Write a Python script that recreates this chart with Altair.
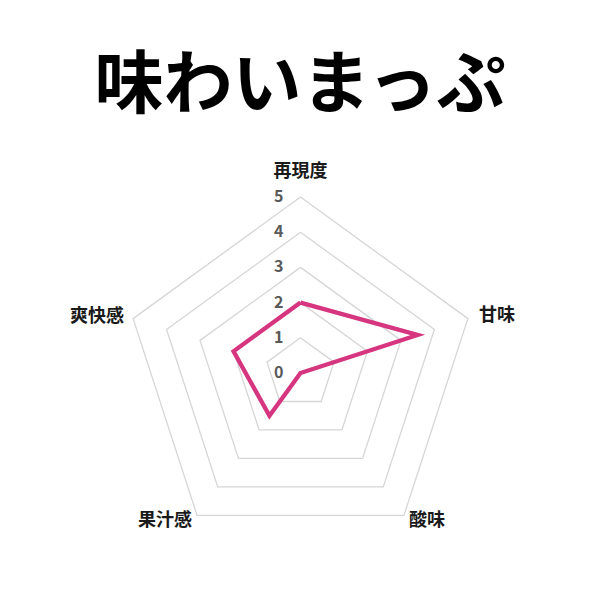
import altair as alt
import pandas as pd

# ---- data ----
categories = ["再現度", "甘味", "酸味", "果汁感", "爽快感"]
values = [2, 3.5, 0, 1.5, 2]
levels = [1, 2, 3, 4, 5]
tick_labels = ["0", "1", "2", "3", "4", "5"]

N = len(categories)
FONT = "Noto Sans CJK JP"

series_df = pd.DataFrame({
    "ord": list(range(N + 1)),
    "idx": [i % N for i in range(N + 1)],
    "value": [values[i % N] for i in range(N + 1)],
})
ring_df = pd.DataFrame([
    {"level": l, "ord": i, "idx": i % N, "value": l}
    for l in levels for i in range(N + 1)
])
label_df = pd.DataFrame({
    "idx": list(range(N)),
    "category": categories,
    "value": [max(levels)] * N,
})
tick_df = pd.DataFrame({
    "tick": tick_labels,
    "value": [float(t) for t in tick_labels],
    "idx": [0] * len(tick_labels),
})

# ---- layout ----
W, H = 584, 584
PAD_TOP = 140
VIEW_H = H - PAD_TOP
CX, CY = 292.5, 225.0          # centre inside the view (pixels)
PX_PER_UNIT = 35.2

x_dom = [-CX / PX_PER_UNIT, (W - CX) / PX_PER_UNIT]
y_dom = [-(VIEW_H - CY) / PX_PER_UNIT, CY / PX_PER_UNIT]

X = alt.X("px:Q", scale=alt.Scale(domain=x_dom, nice=False, zero=False), axis=None)
Y = alt.Y("py:Q", scale=alt.Scale(domain=y_dom, nice=False, zero=False), axis=None)


def polar(chart):
    return (chart
            .transform_calculate(ang=f"datum.idx * 2 * PI / {N}")
            .transform_calculate(px="datum.value * sin(datum.ang)",
                                 py="datum.value * cos(datum.ang)"))


rings = polar(alt.Chart(ring_df).mark_line(color="#d6d6d6", strokeWidth=1.3)).encode(
    x=X, y=Y, detail="level:N", order="ord:Q")

series = polar(alt.Chart(series_df).mark_line(
    color="#D6357F", strokeWidth=4.3, strokeJoin="miter")).encode(
    x=X, y=Y, order="ord:Q")

ticks = polar(alt.Chart(tick_df).mark_text(
    align="right", baseline="middle", dx=-17, fontSize=16, fontWeight="bold",
    font=FONT, color="#595959")).encode(x=X, y=Y, text="tick:N")

label_style = [
    ("再現度", "center", 0, -25),
    ("甘味", "left", 11, -3),
    ("酸味", "left", 5, 6),
    ("果汁感", "right", -5, 6),
    ("爽快感", "right", -9, -2),
]
label_layers = []
for cat, al, dx, dy in label_style:
    label_layers.append(
        polar(alt.Chart(label_df).transform_filter(alt.datum.category == cat).mark_text(
            align=al, baseline="middle", dx=dx, dy=dy, fontSize=18, fontWeight="bold",
            font=FONT, color="#1a1a1a")).encode(x=X, y=Y, text="category:N")
    )

chart = alt.layer(rings, series, ticks, *label_layers).properties(
    width=W, height=VIEW_H,
    title=alt.Title("味わいまっぷ", fontSize=69, font=FONT, fontWeight="bold",
                    color="black", anchor="middle", offset=26),
    autosize=alt.AutoSizeParams(type="none"),
    padding={"left": 0, "right": 0, "top": PAD_TOP, "bottom": 0},
).configure_view(stroke=None)

chart.save("out.html", embed_options={"renderer": "svg", "actions": False})
